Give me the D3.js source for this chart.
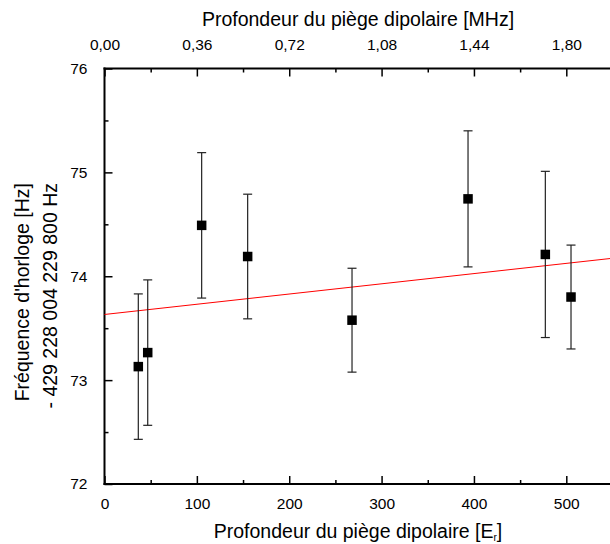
<!DOCTYPE html>
<html><head><meta charset="utf-8">
<script src="https://cdn.jsdelivr.net/npm/d3@7"></script>
<style>html,body{margin:0;padding:0;background:#fff}svg{display:block;font-family:"Liberation Sans",Arial,sans-serif}</style>
</head><body>
<svg id="c" width="610" height="544"></svg>
<script>
// data
const depthEr = [36.6, 46.8, 105.2, 155.0, 268.0, 393.6, 477.3, 505.1];
const freq = [73.13, 73.265, 74.49, 74.19, 73.577, 74.745, 74.21, 73.80];
const freqErr = [0.70, 0.70, 0.70, 0.60, 0.50, 0.655, 0.80, 0.50];
const fitIntercept = 73.632;
const fitSlope = 0.000984;
const bottomTicks = [0, 100, 200, 300, 400, 500];
const bottomMinor = [50, 150, 250, 350, 450, 550];
const topTicks = [0, 0.36, 0.72, 1.08, 1.44, 1.80];
const topMinor = [0.18, 0.54, 0.90, 1.26, 1.62, 1.98];
const leftTicks = [72, 73, 74, 75, 76];
const leftMinor = [72.5, 73.5, 74.5, 75.5];
const erToMHz = 0.0036;

const svg = d3.select("#c");
const L = 104.5, T = 68.5, B = 484, xMax = 560;
const R = L + 0.9236 * xMax;
const x = d3.scaleLinear().domain([0, xMax]).range([L, R]);
const xTop = d3.scaleLinear().domain([0, xMax * erToMHz]).range([L, R]);
const y = d3.scaleLinear().domain([72, 76]).range([B, T]);

const fmtTop = v => d3.format(".2f")(v).replace(".", ",");

function styleAxis(g) {
  g.select(".domain").remove();
  g.selectAll(".tick line").attr("stroke", "#000").attr("stroke-width", 1.5);
  g.selectAll(".tick text").attr("font-size", 15.5).attr("fill", "#000")
    .attr("font-family", '"Liberation Sans",Arial,sans-serif');
}
// bottom
svg.append("g").attr("transform", `translate(0,${B})`)
  .call(d3.axisBottom(x).tickValues(bottomTicks).tickSizeInner(-8).tickSizeOuter(0).tickPadding(14).tickFormat(d3.format("d")))
  .call(styleAxis);
svg.append("g").attr("transform", `translate(0,${B})`)
  .call(d3.axisBottom(x).tickValues(bottomMinor).tickSizeInner(-4).tickSizeOuter(0).tickFormat(""))
  .call(styleAxis);
// top
svg.append("g").attr("transform", `translate(0,${T})`)
  .call(d3.axisTop(xTop).tickValues(topTicks).tickSizeInner(-8).tickSizeOuter(0).tickPadding(19).tickFormat(fmtTop))
  .call(styleAxis);
svg.append("g").attr("transform", `translate(0,${T})`)
  .call(d3.axisTop(xTop).tickValues(topMinor).tickSizeInner(-4).tickSizeOuter(0).tickFormat(""))
  .call(styleAxis);
// left
svg.append("g").attr("transform", `translate(${L},0)`)
  .call(d3.axisLeft(y).tickValues(leftTicks).tickSizeInner(-8).tickSizeOuter(0).tickPadding(17).tickFormat(d3.format("d")))
  .call(styleAxis);
svg.append("g").attr("transform", `translate(${L},0)`)
  .call(d3.axisLeft(y).tickValues(leftMinor).tickSizeInner(-4).tickSizeOuter(0).tickFormat(""))
  .call(styleAxis);

// frame lines
svg.append("line").attr("x1", L - 1).attr("x2", 610).attr("y1", T).attr("y2", T).attr("stroke", "#000").attr("stroke-width", 2);
svg.append("line").attr("x1", L - 1).attr("x2", 610).attr("y1", B).attr("y2", B).attr("stroke", "#000").attr("stroke-width", 2);
svg.append("line").attr("x1", L).attr("x2", L).attr("y1", T - 1).attr("y2", B + 1).attr("stroke", "#000").attr("stroke-width", 2);

// fit line
svg.append("line")
  .attr("x1", x(0)).attr("y1", y(fitIntercept))
  .attr("x2", x(xMax)).attr("y2", y(fitIntercept + fitSlope * xMax))
  .attr("stroke", "#ff0000").attr("stroke-width", 1);

// error bars
const pts = depthEr.map((d, i) => ({ x: d, y: freq[i], e: freqErr[i] }));
const eb = svg.append("g").attr("stroke", "#222").attr("stroke-width", 1.2);
pts.forEach(p => {
  const cx = x(p.x);
  eb.append("line").attr("x1", cx).attr("x2", cx).attr("y1", y(p.y + p.e)).attr("y2", y(p.y - p.e));
  eb.append("line").attr("x1", cx - 4.5).attr("x2", cx + 4.5).attr("y1", y(p.y + p.e)).attr("y2", y(p.y + p.e));
  eb.append("line").attr("x1", cx - 4.5).attr("x2", cx + 4.5).attr("y1", y(p.y - p.e)).attr("y2", y(p.y - p.e));
});
// markers
const ms = 9.5;
svg.append("g").selectAll("rect").data(pts).join("rect")
  .attr("x", d => x(d.x) - ms / 2).attr("y", d => y(d.y) - ms / 2)
  .attr("width", ms).attr("height", ms).attr("fill", "#000");

// titles
svg.append("text").attr("x", 358).attr("y", 26).attr("text-anchor", "middle")
  .attr("font-size", 19.5).text("Profondeur du piège dipolaire [MHz]");
const bt = svg.append("text").attr("x", 358).attr("y", 537.5).attr("text-anchor", "middle").attr("font-size", 19.5);
bt.append("tspan").text("Profondeur du piège dipolaire [E");
bt.append("tspan").attr("font-size", 10).attr("dy", 3.5).text("r");
bt.append("tspan").attr("dy", -3.5).text("]");

const yl = svg.append("text").attr("transform", "rotate(-90)").attr("text-anchor", "end").attr("font-size", 19.5);
yl.append("tspan").attr("x", -183).attr("y", 28.5).text("Fréquence d'horloge [Hz]");
yl.append("tspan").attr("x", -183).attr("y", 57).text("- 429 228 004 229 800 Hz");
</script>
</body></html>
